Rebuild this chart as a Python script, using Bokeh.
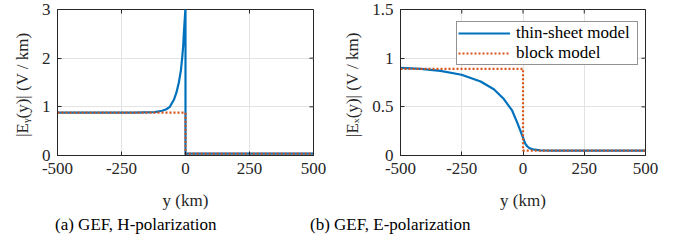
import math
from bokeh.plotting import figure
from bokeh.layouts import row, column
from bokeh.models import Legend, LegendItem, FixedTicker, Range1d, Div
from bokeh.embed import file_html
from bokeh.resources import INLINE

# ---- data ----
# (a) H-polarization
y_thin_h = [-500, -300, -200, -120, -91, -75, -61, -45, -35, -26, -18, -13, -9, -6.5, -3, -0.5, 0, 0, 3, 100, 300, 500]
e_thin_h = [0.88, 0.88, 0.88, 0.89, 0.92, 0.95, 1.0, 1.15, 1.3, 1.5, 1.75, 2.0, 2.25, 2.5, 2.8, 3.0, 3.0, 0.01, 0.04, 0.04, 0.04, 0.04]
y_block_h = [-500, 0, 0, 500]
e_block_h = [0.88, 0.88, 0.04, 0.04]

# (b) E-polarization
y_thin_e = [-500, -418, -337, -251, -173, -119, -78, -44, -24, -10, -4, 0, 5, 10, 17, 25, 40, 71, 120, 300, 500]
e_thin_e = [0.90, 0.89, 0.87, 0.83, 0.76, 0.68, 0.58, 0.46, 0.34, 0.25, 0.21, 0.185, 0.15, 0.12, 0.095, 0.078, 0.063, 0.053, 0.05, 0.05, 0.05]
y_block_e = [-500, 0, 0, 500]
e_block_e = [0.89, 0.89, 0.05, 0.05]

x_range_a = (-500, 500)
y_range_a = (0, 3)
y_range_b = (0, 1.5)
x_ticks = [-500, -250, 0, 250, 500]
y_ticks_a = [0, 1, 2, 3]
y_ticks_b = [0, 0.5, 1, 1.5]

caption_a = "(a) GEF, H-polarization"
caption_b = "(b) GEF, E-polarization"
ylabel_a = "|Eᵧ(y)|  (V / km)"
ylabel_b = "|Eₓ(y)|  (V / km)"
xlabel = "y (km)"

BLUE = "#0072BD"
ORANGE = "#D95319"
DARK = "#262626"
FONT = "'Liberation Serif', serif"


def style_axis(ax):
    ax.axis_line_color = DARK
    ax.major_tick_line_color = DARK
    ax.major_tick_in = 4
    ax.major_tick_out = 0
    ax.minor_tick_line_color = None
    ax.major_label_text_font = FONT
    ax.major_label_text_font_size = "17px"
    ax.major_label_text_color = DARK
    ax.axis_label_text_font = FONT
    ax.axis_label_text_font_size = "17px"
    ax.axis_label_text_font_style = "normal"
    ax.axis_label_text_color = DARK


def make_fig(width, border_left, border_right, yr, yticks, ylabel):
    p = figure(width=width, height=212, output_backend="svg", toolbar_location=None,
               x_range=Range1d(*x_range_a), y_range=Range1d(*yr),
               min_border_left=border_left, min_border_right=border_right,
               min_border_top=9, min_border_bottom=55)
    p.outline_line_color = DARK
    p.outline_line_width = 1
    p.background_fill_color = "white"
    p.border_fill_color = "white"
    style_axis(p.xaxis[0])
    style_axis(p.yaxis[0])
    p.xaxis.ticker = FixedTicker(ticks=x_ticks)
    p.yaxis.ticker = FixedTicker(ticks=yticks)
    p.xaxis.major_label_overrides = {-500: "-500", -250: "-250"}
    p.xaxis.axis_label = xlabel
    p.yaxis.axis_label = ylabel
    p.xaxis.major_label_standoff = 7
    p.yaxis.major_label_standoff = 7
    p.xaxis.axis_label_standoff = 14
    p.yaxis.axis_label_standoff = 7
    p.grid.grid_line_color = "#e3e3e3"
    p.grid.grid_line_width = 1
    # mirrored box tick marks on top and right edges (clipped to the frame -> inward ticks)
    p.scatter(x=x_ticks, y=[yr[1]] * len(x_ticks), marker="dash", angle=math.pi / 2,
              size=8, line_color=DARK, line_width=1)
    p.scatter(x=[x_range_a[1]] * len(yticks), y=yticks, marker="dash",
              size=8, line_color=DARK, line_width=1)
    return p


p1 = make_fig(338, 57, 25, y_range_a, y_ticks_a, ylabel_a)
p1.line(y_thin_h, e_thin_h, line_color=BLUE, line_width=2.2)
p1.line(y_block_h, e_block_h, line_color=ORANGE, line_width=2.2, line_dash="2 2")

p2 = make_fig(340, 62, 33, y_range_b, y_ticks_b, ylabel_b)
r_thin = p2.line(y_thin_e, e_thin_e, line_color=BLUE, line_width=2.2)
r_block = p2.line(y_block_e, e_block_e, line_color=ORANGE, line_width=2.2, line_dash="2 2")
p2.yaxis[0].major_label_overrides = {0: "0", 1: "1"}

legend = Legend(items=[LegendItem(label="thin-sheet model", renderers=[r_thin]),
                       LegendItem(label="block model", renderers=[r_block])],
                location=(56, 90), label_text_font=FONT, label_text_font_size="17px",
                label_text_line_height=1.0,
                label_text_color="black", border_line_color=DARK, border_line_width=1,
                background_fill_alpha=1.0, glyph_width=52, glyph_height=14,
                label_height=14, label_width=120, label_standoff=6, padding=1, spacing=0,
                margin=0)
p2.add_layout(legend)

cap_html = (
    '<div style="position:relative;width:678px;height:34px;'
    "font-family:'Liberation Serif',serif;font-size:17px;color:#000;line-height:20px;\">"
    f'<span style="position:absolute;left:55px;top:3px;white-space:nowrap;">{caption_a}</span>'
    f'<span style="position:absolute;left:310px;top:3px;white-space:nowrap;">{caption_b}</span>'
    "</div>"
)
cap = Div(text=cap_html, width=678, height=34, margin=(0, 0, 0, 0))

layout = column(row(p1, p2, spacing=0), cap, spacing=0)
open("out.html", "w").write(file_html(layout, INLINE))
